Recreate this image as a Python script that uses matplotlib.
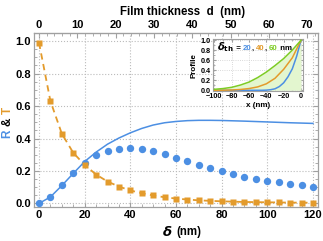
import matplotlib
matplotlib.use("Agg")
import matplotlib.pyplot as plt
from matplotlib.ticker import MultipleLocator

# ---------------- data ----------------
delta_pts = [0, 5, 10, 15, 20, 25, 30, 35, 40, 45, 50, 55, 60, 65, 70, 75, 80,
             85, 90, 95, 100, 105, 110, 115, 120]
R_pts = [0.0, 0.041, 0.116, 0.188, 0.249, 0.300, 0.322, 0.337, 0.343, 0.335,
         0.320, 0.302, 0.282, 0.259, 0.239, 0.216, 0.198, 0.182, 0.165, 0.153,
         0.141, 0.131, 0.122, 0.114, 0.104]
T_pts = [0.99, 0.63, 0.429, 0.312, 0.237, 0.178, 0.135, 0.104, 0.080, 0.063,
         0.049, 0.038, 0.030, 0.024, 0.019, 0.016, 0.013, 0.011, 0.009, 0.008,
         0.007, 0.006, 0.005, 0.005, 0.004]
delta_line = [0, 5, 10, 15, 20, 25, 30, 35, 40, 45, 50, 55, 60, 65, 70, 75, 80,
              90, 100, 110, 120]
R_line = [0.0, 0.04, 0.11, 0.185, 0.258, 0.316, 0.365, 0.403, 0.435, 0.462,
          0.483, 0.497, 0.505, 0.51, 0.512, 0.512, 0.511, 0.507, 0.502, 0.497,
          0.493]

x_blue = [-100, -50, -45, -40, -35, -30, -25, -20, -15, -10, -5, 0]
p_blue = [0.0, 0.0, 0.0, 0.003, 0.012, 0.03, 0.075, 0.15, 0.27, 0.43, 0.68, 1.0]
x_orange = [-100, -90, -80, -70, -60, -50, -40, -30, -20, -10, 0]
p_orange = [0.0, 0.002, 0.006, 0.016, 0.035, 0.068, 0.13, 0.24, 0.42, 0.65, 1.0]
x_green = [-100, -90, -80, -70, -60, -50, -40, -30, -20, -10, 0]
p_green = [0.02, 0.035, 0.06, 0.105, 0.165, 0.255, 0.365, 0.495, 0.635, 0.805, 1.0]

d_ticks = [0, 10, 20, 30, 40, 50, 60, 70]
d_per_delta = 0.596

BLUE = '#4C8FE3'
ORANGE = '#E39B2C'
GREEN = '#7DCC24'
FILL = '#E3F6CF'
FRAME = '#A0A0A0'

plt.rcParams['font.family'] = ['Liberation Sans', 'DejaVu Sans']
plt.rcParams['font.weight'] = 'bold'

W, H = 323, 241
fig = plt.figure(figsize=(W / 100, H / 100), dpi=100)

def box(l, r, t, b):
    return [l / W, 1 - b / H, (r - l) / W, (b - t) / H]

ax = fig.add_axes(box(34, 318, 33, 207))
ax.set_xlim(-2.2, 122.2)
ax.set_ylim(-0.022, 1.05)
ax.grid(True, color='#BBBBBB', linestyle=':', linewidth=0.8)
ax.set_axisbelow(True)
ax.xaxis.set_minor_locator(MultipleLocator(5))
ax.yaxis.set_minor_locator(MultipleLocator(0.05))
for s in ax.spines.values():
    s.set_color(FRAME)
    s.set_linewidth(0.9)
ax.tick_params(which='both', direction='in', color=FRAME, labelsize=8, pad=2)
ax.tick_params(which='major', length=3.5)
ax.tick_params(which='minor', length=2)
ax.tick_params(axis='y', which='both', right=True)

ax.plot(delta_line, R_line, color=BLUE, lw=1.1, zorder=3)
ax.plot(delta_pts, T_pts, color=ORANGE, lw=1.3, ls=(0, (3.5, 2.5)), zorder=3)
ax.plot(delta_pts, R_pts, 'o', color=BLUE, ms=5.3, mec='none', zorder=4)
ax.plot(delta_pts, T_pts, 's', color=ORANGE, ms=4.5, mec='none', zorder=4)

ax.set_xticks([0, 20, 40, 60, 80, 100, 120])
ax.set_yticks([0.0, 0.2, 0.4, 0.6, 0.8, 1.0])
ax.set_xticklabels(['0', '20', '40', '60', '80', '100', '120'], fontweight='bold')
ax.set_yticklabels(['0.0', '0.2', '0.4', '0.6', '0.8', '1.0'], fontweight='bold')

sec = ax.secondary_xaxis('top', functions=(lambda x: x * d_per_delta,
                                           lambda d: d / d_per_delta))
sec.set_xticks(d_ticks)
sec.set_xticklabels([str(v) for v in d_ticks], fontweight='bold')
sec.xaxis.set_minor_locator(MultipleLocator(2))
sec.tick_params(which='both', direction='in', color=FRAME, labelsize=8, pad=2)
sec.tick_params(which='major', length=3.5)
sec.tick_params(which='minor', length=2)
sec.spines['top'].set_color(FRAME)

fig.text(183 / W, 1 - 12 / H, 'Film thickness  d  (nm)', ha='center', va='center',
         fontsize=8.3, fontweight='bold')
fig.text(172 / W, 1 - 232 / H, r'$\boldsymbol{\delta}$', ha='right', va='center',
         fontsize=9.5, fontweight='bold', family='DejaVu Sans', style='italic')
fig.text(176 / W, 1 - 232 / H, '(nm)', ha='left', va='center',
         fontsize=8.3, fontweight='bold')

# ---------------- inset ----------------
ins = fig.add_axes(box(212.7, 302.7, 39.3, 91.3))
ins.set_facecolor('white')
ins.set_xlim(-102, 2)
ins.set_ylim(-0.02, 1.02)
ins.grid(True, color='#CCCCCC', linestyle=':', linewidth=0.6)
ins.set_axisbelow(True)
ins.fill_between(x_green, p_green, 0, color=FILL, lw=0, zorder=1)
ins.plot(x_blue, p_blue, color=BLUE, lw=1.1, zorder=3)
ins.plot(x_orange, p_orange, color=ORANGE, lw=1.1, zorder=3)
ins.plot(x_green, p_green, color=GREEN, lw=1.1, zorder=3)
ins.set_xticks([-100, -80, -60, -40, -20, 0])
ins.set_xticklabels(['\u2212100', '\u221280', '\u221260', '\u221240', '\u221220', '0'],
                    fontweight='bold')
ins.set_yticks([0.0, 0.2, 0.4, 0.6, 0.8, 1.0])
ins.set_yticklabels(['0.0', '0.2', '0.4', '0.6', '0.8', '1.0'], fontweight='bold')
ins.xaxis.set_minor_locator(MultipleLocator(10))
ins.yaxis.set_minor_locator(MultipleLocator(0.1))
for s in ins.spines.values():
    s.set_color(FRAME)
    s.set_linewidth(0.8)
ins.tick_params(which='both', direction='in', color=FRAME, labelsize=5.2, pad=1.5,
                top=True, right=True)
ins.tick_params(which='major', length=2.5)
ins.tick_params(which='minor', length=1.3)
ins.set_xlabel('x (nm)', fontsize=5.8, fontweight='bold', labelpad=1)
ins.set_ylabel('Profile', fontsize=5.8, fontweight='bold', labelpad=2)

fig.canvas.draw()
r = fig.canvas.get_renderer()

# inset legend text, multicoloured
pieces = [(r'$\boldsymbol{\delta}_{\mathbf{th}}$', 'black', 7.2, 'DejaVu Sans'),
          (' = ', 'black', 5.7, 'Liberation Sans'),
          ('20', BLUE, 5.7, 'Liberation Sans'),
          (', ', 'black', 5.7, 'Liberation Sans'),
          ('40', ORANGE, 5.7, 'Liberation Sans'),
          (', ', 'black', 5.7, 'Liberation Sans'),
          ('60', GREEN, 5.7, 'Liberation Sans'),
          (' nm', 'black', 5.7, 'Liberation Sans')]
x0 = 217 / W
ybase = 1 - 50 / H
for txt, col, fs, fam in pieces:
    t = fig.text(x0, ybase, txt, color=col, fontsize=fs, fontweight='bold',
                 family=fam, ha='left', va='baseline')
    bb = t.get_window_extent(renderer=r)
    x0 = x0 + bb.width / W

# y label "R & T" multicoloured, stacked bottom to top
y0 = 1 - 138 / H
for txt, col in [('R ', BLUE), ('& ', 'black'), ('T', ORANGE)]:
    t = fig.text(8 / W, y0, txt, color=col, rotation=90, ha='center', va='bottom',
                 fontsize=8.5, fontweight='bold')
    bb = t.get_window_extent(renderer=r)
    y0 = y0 + bb.height / H

fig.savefig('out.png', dpi=100)
